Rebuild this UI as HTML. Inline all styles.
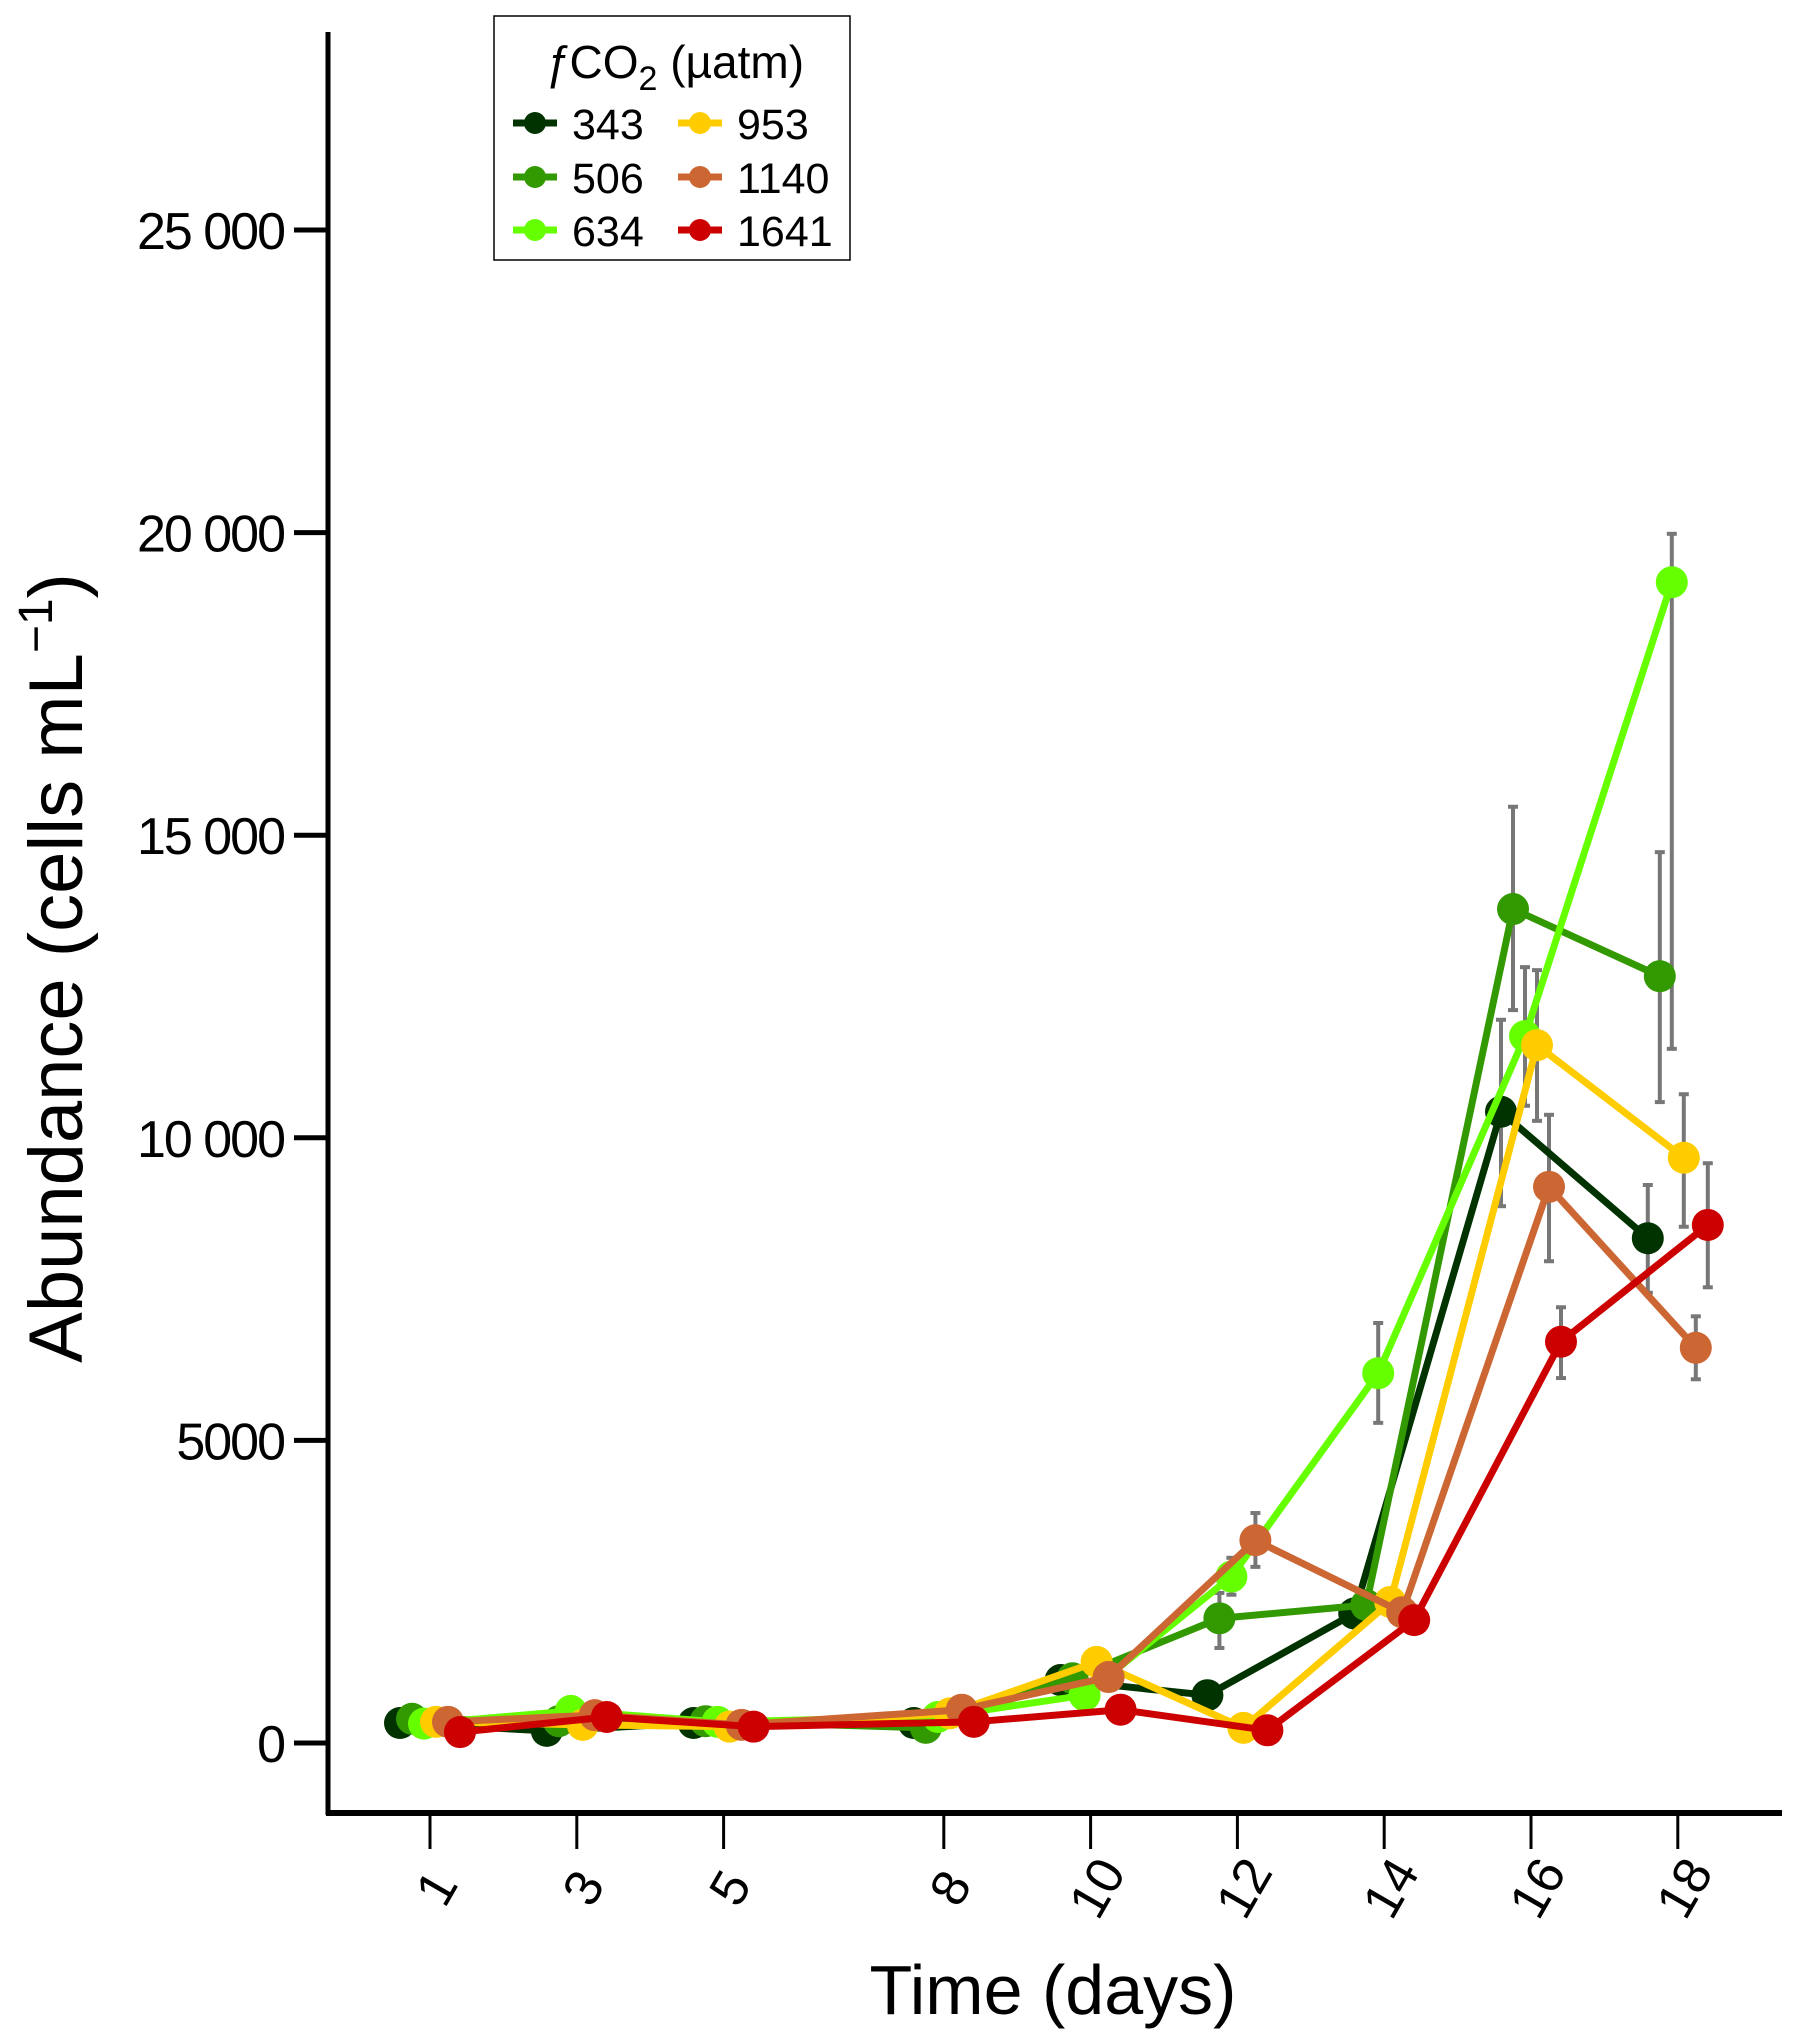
<!DOCTYPE html>
<html><head><meta charset="utf-8"><style>
html,body{margin:0;padding:0;background:#fff;}
svg{display:block;font-family:"Liberation Sans",Arial,sans-serif;}
</style></head><body>
<svg id="chart" width="1800" height="2035" viewBox="0 0 1800 2035" xmlns="http://www.w3.org/2000/svg">
<g id="axes"></g>
<g id="errs"></g>
<g id="series"></g>
<text transform="translate(82,968) rotate(-90)" text-anchor="middle" font-size="76">Abundance (cells mL<tspan font-size="48" dy="-30">−1</tspan><tspan dy="30">)</tspan></text>
<text x="1053" y="2014" text-anchor="middle" font-size="70">Time (days)</text>
<g id="legend">
<rect x="494" y="16" width="356" height="244" fill="#fff" stroke="#000" stroke-width="1.5"/>
<text x="674" y="78" text-anchor="middle" font-size="46"><tspan font-style="italic">ƒ</tspan>CO<tspan font-size="34" dy="12">2</tspan><tspan dy="-12"> (µatm)</tspan></text>
</g>
</svg>
<script>
const days = [1, 3, 5, 8, 10, 12, 14, 16, 18];
const seriesNames = ["343", "506", "634", "953", "1140", "1641"];
const seriesColors = ["#003300", "#339900", "#66ff00", "#ffcc00", "#cc6633", "#cc0000"];
const v343  = [330, 200, 330, 330, 1040, 790, 2140, 10430, 8340];
const v506  = [400, 360, 360, 250, 1070, 2060, 2280, 13780, 12670];
const v634  = [320, 530, 350, 430, 790, 2750, 6110, 11680, 19180];
const v953  = [350, 300, 270, 490, 1340, 250, 2330, 11530, 9670];
const v1140 = [350, 460, 300, 550, 1090, 3350, 2160, 9190, 6530];
const v1641 = [180, 430, 270, 350, 550, 210, 2030, 6630, 8560];
const lo343  = [null,null,null,null,null,null,null,8870,7440];
const hi343  = [null,null,null,null,null,null,null,11950,9220];
const lo506  = [null,null,null,null,null,1570,null,12110,10590];
const hi506  = [null,null,null,null,null,2480,null,15470,14720];
const lo634  = [null,null,null,null,null,2450,5290,10530,11470];
const hi634  = [null,null,null,null,null,3060,6940,12820,19980];
const lo953  = [null,null,null,null,null,null,null,10280,8530];
const hi953  = [null,null,null,null,null,null,null,12770,10720];
const lo1140 = [null,null,null,null,null,2910,null,7960,6010];
const hi1140 = [null,null,null,null,null,3800,null,10380,7050];
const lo1641 = [null,null,null,null,null,null,null,6030,7530];
const hi1641 = [null,null,null,null,null,null,null,7200,9580];
const yTicks = [0, 5000, 10000, 15000, 20000, 25000];
const yTickLabels = ["0", "5000", "10 000", "15 000", "20 000", "25 000"];
const xTicks = [1, 3, 5, 8, 10, 12, 14, 16, 18];

const vals = [v343, v506, v634, v953, v1140, v1641];
const los = [lo343, lo506, lo634, lo953, lo1140, lo1641];
const his = [hi343, hi506, hi634, hi953, hi1140, hi1641];
const NS = "http://www.w3.org/2000/svg";
function xs(d){ return 430 + (d - 1) * 73.4; }
function ys(v){ return 1743 - v * 0.06052; }
function mk(tag, attrs, parent){ const e = document.createElementNS(NS, tag); for (const k in attrs) e.setAttribute(k, attrs[k]); parent.appendChild(e); return e; }

const axes = document.getElementById('axes');
let l = mk('line', {x1:328,y1:32,x2:328,y2:1815,stroke:'#000','stroke-width':5}, axes);


l = mk('line', {x1:326,y1:1813,x2:1782,y2:1813,stroke:'#000','stroke-width':6}, axes);


yTicks.forEach((t, i) => {
  const y = ys(t);
  const tk = mk('line', {x1:294,y1:y,x2:328,y2:y,stroke:'#000','stroke-width':5}, axes);
  
  
  const tx = mk('text', {x:284,y:y+19,'text-anchor':'end','font-size':52,'letter-spacing':'-2'}, axes);
  
  
  tx.textContent = yTickLabels[i];
});
xTicks.forEach(d => {
  const x = xs(d);
  const tk = mk('line', {x1:x,y1:1813,x2:x,y2:1849,stroke:'#000','stroke-width':3}, axes);
  
  
  const tx = mk('text', {transform:`translate(${x+10},${1890}) rotate(-60)`,'text-anchor':'middle','font-size':52,'dominant-baseline':'middle'}, axes);
  
  
  tx.textContent = String(d);
});

const errs = document.getElementById('errs');
const ser = document.getElementById('series');
vals.forEach((arr, s) => {
  const off = (s - 2.5) * 12;
  los[s].forEach((lo, i) => {
    const hi = his[s][i];
    if (lo == null || hi == null) return;
    const x = xs(days[i]) + off;
    const g = mk('g', {stroke:'#777','stroke-width':4}, errs);
    
    
    mk('line', {x1:x,y1:ys(hi),x2:x,y2:ys(lo)}, g);
    mk('line', {x1:x-5,y1:ys(hi),x2:x+5,y2:ys(hi)}, g);
    mk('line', {x1:x-5,y1:ys(lo),x2:x+5,y2:ys(lo)}, g);
  });
});
vals.forEach((arr, s) => {
  const off = (s - 2.5) * 12;
  const g = mk('g', {}, ser);
  
  
  const pts = arr.map((v, i) => (xs(days[i]) + off) + ',' + ys(v)).join(' ');
  const pl = mk('polyline', {points:pts,fill:'none',stroke:seriesColors[s],'stroke-width':7,'stroke-linejoin':'round'}, g);
  
  
  arr.forEach((v, i) => {
    const c = mk('circle', {cx:xs(days[i]) + off, cy:ys(v), r:16, fill:seriesColors[s]}, g);
    
    
  });
});

const leg = document.getElementById('legend');
const lx = [535, 700], ly = [123, 177, 230];
seriesNames.forEach((n, s) => {
  const col = Math.floor(s / 3), row = s % 3;
  const g = mk('g', {}, leg);
  
  
  const cx = lx[col], cy = ly[row];
  mk('line', {x1:cx-22,y1:cy,x2:cx+22,y2:cy,stroke:seriesColors[s],'stroke-width':7}, g);
  mk('circle', {cx:cx,cy:cy,r:11,fill:seriesColors[s]}, g);
  const t = mk('text', {x:cx+37,y:cy+16,'font-size':43}, g);
  
  
  t.textContent = n;
});
</script>
</body></html>
